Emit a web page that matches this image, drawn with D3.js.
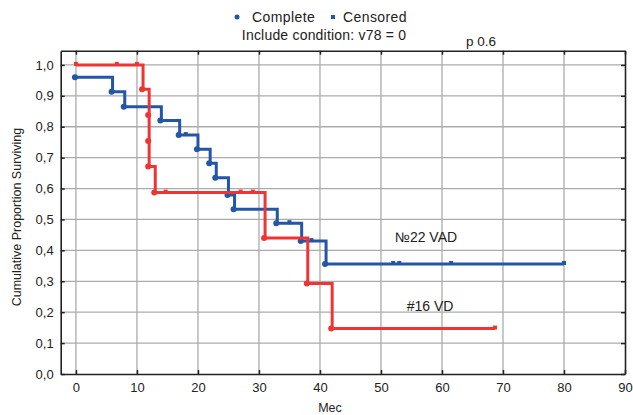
<!DOCTYPE html>
<html>
<head>
<meta charset="utf-8">
<script src="https://cdn.jsdelivr.net/npm/d3@7/dist/d3.min.js"></script>
<style>
  html, body { margin: 0; padding: 0; background: #fff; }
  svg { display: block; font-family: "Liberation Sans", Arial, sans-serif; }
</style>
</head>
<body>
<svg id="chart" width="633" height="415"></svg>
<script>
// ---- Data ----
const xTicks = [0, 10, 20, 30, 40, 50, 60, 70, 80, 90];
const yTicks = [0, 0.1, 0.2, 0.3, 0.4, 0.5, 0.6, 0.7, 0.8, 0.9, 1.0];

// №22 VAD (blue)
const vadEventTimes = [0, 6, 8, 14, 17, 20, 22, 23, 25, 26, 33, 37, 41];
const vadEventSurv  = [0.96, 0.913, 0.865, 0.82, 0.773, 0.727, 0.682, 0.635, 0.579, 0.533, 0.488, 0.430, 0.356];
const vadCensored   = [18, 35, 38.6, 52, 53, 61.5, 80];
const vadEnd = 80;

// #16 VD (red)
const vdEventTimes = [11, 12, 12, 12, 13, 31, 38, 42];
const vdEventSurv  = [0.921, 0.838, 0.754, 0.671, 0.587, 0.44, 0.293, 0.147];
const vdCensored   = [0, 6.7, 10, 14.7, 27, 29, 68.7];
const vdStart = 0, vdStartSurv = 1.0;
const vdEnd = 68.7;

const seriesLabels = ["№22 VAD", "#16 VD"];

// ---- Layout ----
const svg = d3.select("#chart");
const x = d3.scaleLinear().domain([-2.5, 90]).range([60.7, 625]);
const y = d3.scaleLinear().domain([0, 1.046]).range([374, 50.7]);
const blue = "#2356a6", red = "#f03434";
const fmt = d => d3.format(".1f")(d).replace(".", ",");

// grid
const g = svg.append("g");
g.selectAll(".vg").data(xTicks.filter(t => t < 90)).join("line")
  .attr("x1", d => x(d)).attr("x2", d => x(d))
  .attr("y1", y.range()[0]).attr("y2", y.range()[1])
  .attr("stroke", "#ababab").attr("stroke-width", 1.3);
g.selectAll(".hg").data(yTicks.filter(t => t > 0)).join("line")
  .attr("x1", x.range()[0]).attr("x2", x.range()[1])
  .attr("y1", d => y(d)).attr("y2", d => y(d))
  .attr("stroke", "#ababab").attr("stroke-width", 1.3);

// axes (ticks inward on all sides)
const axB = svg.append("g").attr("transform", `translate(0,${y.range()[0]})`)
  .call(d3.axisBottom(x).tickValues(xTicks).tickSizeInner(-4).tickSizeOuter(0).tickPadding(9).tickFormat(d3.format("d")));
const axT = svg.append("g").attr("transform", `translate(0,${y.range()[1]})`)
  .call(d3.axisTop(x).tickValues(xTicks).tickSizeInner(-4).tickSizeOuter(0).tickFormat(""));
const axL = svg.append("g").attr("transform", `translate(${x.range()[0]},0)`)
  .call(d3.axisLeft(y).tickValues(yTicks).tickSizeInner(-4).tickSizeOuter(0).tickPadding(7).tickFormat(fmt));
const axR = svg.append("g").attr("transform", `translate(${x.range()[1]},0)`)
  .call(d3.axisRight(y).tickValues(yTicks).tickSizeInner(-4).tickSizeOuter(0).tickFormat(""));
[axB, axT, axL, axR].forEach(a => {
  a.select(".domain").attr("stroke", "#222").attr("stroke-width", 1.6);
  a.selectAll(".tick line").attr("stroke", "#222").attr("stroke-width", 1.5);
  a.selectAll("text").attr("font-size", 13).attr("fill", "#222")
    .attr("font-family", "'Liberation Sans', Arial, sans-serif");
});

// step curves
function stepPoints(startT, startS, times, surv, endT) {
  const pts = [];
  if (startT !== null) pts.push([startT, startS]);
  times.forEach((t, i) => pts.push([t, surv[i]]));
  pts.push([endT, pts[pts.length - 1][1]]);
  return pts;
}
function survAt(t, startS, times, surv) {
  let s = startS;
  times.forEach((tt, i) => { if (tt <= t) s = surv[i]; });
  return s;
}
const line = d3.line().x(d => x(d[0])).y(d => y(d[1])).curve(d3.curveStepAfter);

const series = [
  { color: blue, pts: stepPoints(null, null, vadEventTimes, vadEventSurv, vadEnd),
    ev: vadEventTimes.map((t, i) => [t, vadEventSurv[i]]),
    cen: vadCensored.map(t => [t, survAt(t, vadEventSurv[0], vadEventTimes, vadEventSurv)]) },
  { color: red, pts: stepPoints(vdStart, vdStartSurv, vdEventTimes, vdEventSurv, vdEnd),
    ev: vdEventTimes.map((t, i) => [t, vdEventSurv[i]]),
    cen: vdCensored.map(t => [t, survAt(t, vdStartSurv, vdEventTimes, vdEventSurv)]) }
];
series.forEach(s => {
  svg.append("path").datum(s.pts).attr("d", line)
    .attr("fill", "none").attr("stroke", s.color).attr("stroke-width", 3)
    .attr("stroke-linejoin", "miter");
  svg.selectAll(null).data(s.ev).join("circle")
    .attr("cx", d => x(d[0]) - 1).attr("cy", d => y(d[1])).attr("r", 3)
    .attr("fill", s.color);
  svg.selectAll(null).data(s.cen).join("rect")
    .attr("x", d => x(d[0]) - 2).attr("y", d => y(d[1]) - 3).attr("width", 4).attr("height", 4)
    .attr("fill", s.color);
});

// series labels
svg.append("text").attr("x", 426).attr("y", 242).text(seriesLabels[0])
  .attr("font-size", 14).attr("fill", "#222").attr("text-anchor", "middle");
svg.append("text").attr("x", 430).attr("y", 311).text(seriesLabels[1])
  .attr("font-size", 14).attr("fill", "#222").attr("text-anchor", "middle");

// axis titles
svg.append("text").attr("x", 330).attr("y", 412).attr("text-anchor", "middle")
  .attr("font-size", 12.5).attr("fill", "#222").text("Mec");
svg.append("text").attr("transform", "translate(21,217) rotate(-90)").attr("text-anchor", "middle")
  .attr("font-size", 12.5).attr("fill", "#222").text("Cumulative Proportion Surviving");

// legend / header
svg.append("circle").attr("cx", 237).attr("cy", 17).attr("r", 2.5).attr("fill", blue);
svg.append("text").attr("x", 252).attr("y", 22).attr("font-size", 14).attr("letter-spacing", 0.4)
  .attr("fill", "#222").text("Complete");
svg.append("rect").attr("x", 331).attr("y", 15).attr("width", 4).attr("height", 4).attr("fill", blue);
svg.append("text").attr("x", 343).attr("y", 22).attr("font-size", 14).attr("letter-spacing", 0.4)
  .attr("fill", "#222").text("Censored");
svg.append("text").attr("x", 324).attr("y", 40).attr("text-anchor", "middle").attr("font-size", 14)
  .attr("letter-spacing", 0.2).attr("fill", "#222").text("Include condition: v78 = 0");
svg.append("text").attr("x", 466).attr("y", 46).attr("font-size", 13.5).attr("fill", "#222").text("p 0.6");
</script>
</body>
</html>
